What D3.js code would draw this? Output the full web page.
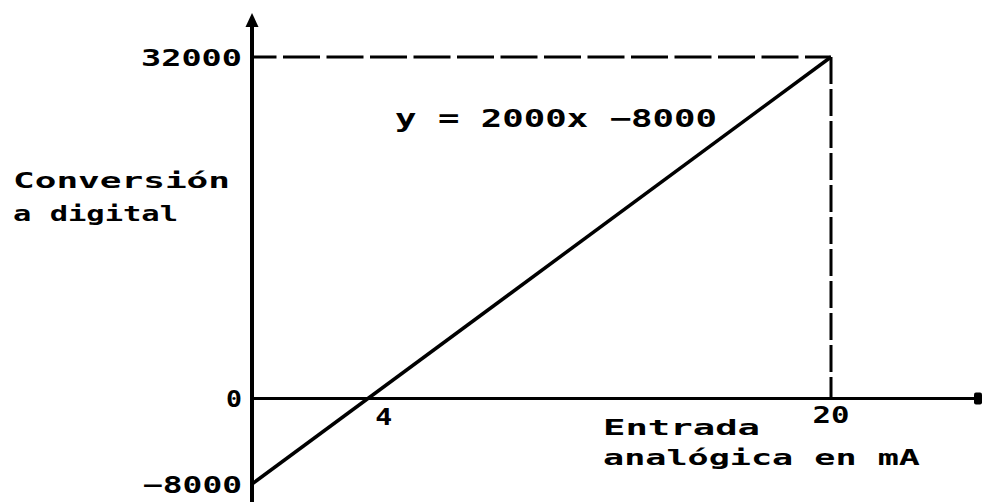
<!DOCTYPE html>
<html>
<head>
<meta charset="utf-8">
<script src="https://cdn.jsdelivr.net/npm/d3@7"></script>
<style>
  html, body { margin: 0; padding: 0; background: #fff; }
  svg { display: block; }
  text { font-family: "DejaVu Sans Mono", monospace; font-weight: bold; fill: #000; }
</style>
</head>
<body>
<svg id="chart" width="982" height="502"></svg>
<script>
// ---- data ----
const lineX = [0, 20];            // analog input (mA)
const lineY = [-8000, 32000];     // digital conversion
const xTicks = [4, 20];
const yTicks = [-8000, 0, 32000];
const yTickLabels = ["-8000", "0", "32000"];
const equation = "y = 2000x -8000";
const yTitle = ["Conversión", "a digital"];
const xTitle = ["Entrada", "analógica en mA"];

// ---- layout ----
const svg = d3.select("#chart");
const x = d3.scaleLinear().domain([0, 20]).range([252, 831]);
const y = d3.scaleLinear().domain([-8000, 32000]).range([484, 57]);

// dashed guide lines
svg.append("line")
  .attr("x1", x(0)).attr("x2", x(20))
  .attr("y1", y(32000)).attr("y2", y(32000))
  .attr("stroke", "#000").attr("stroke-width", 3)
  .attr("stroke-dasharray", "37,6.5").attr("stroke-dashoffset", 12.5);
svg.append("line")
  .attr("x1", x(20)).attr("x2", x(20))
  .attr("y1", y(32000)).attr("y2", y(0))
  .attr("stroke", "#000").attr("stroke-width", 3)
  .attr("stroke-dasharray", "27,5");

// x axis
svg.append("line")
  .attr("x1", x(0)).attr("x2", 978)
  .attr("y1", y(0)).attr("y2", y(0))
  .attr("stroke", "#000").attr("stroke-width", 3);
svg.append("rect")
  .attr("x", 974).attr("y", y(0) - 6).attr("width", 8).attr("height", 12)
  .attr("rx", 2).attr("fill", "#000");

// y axis
svg.append("line")
  .attr("x1", x(0)).attr("x2", x(0))
  .attr("y1", 502).attr("y2", 26)
  .attr("stroke", "#000").attr("stroke-width", 4);
svg.append("polygon")
  .attr("points", `${x(0)},13 ${x(0) - 6.5},27 ${x(0) + 6.5},27`)
  .attr("fill", "#000");

// data line
const line = d3.line().x(d => x(d[0])).y(d => y(d[1]));
svg.append("path")
  .datum(lineX.map((v, i) => [v, lineY[i]]))
  .attr("d", line)
  .attr("fill", "none").attr("stroke", "#000").attr("stroke-width", 3.5);

// y tick labels
const yLabelWidths = { "-8000": 99, "0": 16, "32000": 101 };
svg.selectAll(".ylab").data(yTicks).enter().append("text")
  .attr("class", "ylab")
  .attr("x", x(0) - 10)
  .attr("y", d => y(d) + 8.5)
  .attr("text-anchor", "end")
  .attr("font-size", 23)
  .attr("textLength", (d, i) => yLabelWidths[yTickLabels[i]])
  .attr("lengthAdjust", "spacingAndGlyphs")
  .text((d, i) => yTickLabels[i].replace("-", "\u2212"));

// x tick labels
const xLabelDx = { 4: 16, 20: 0 };
const xLabelWidths = { 4: 17, 20: 37 };
svg.selectAll(".xlab").data(xTicks).enter().append("text")
  .attr("class", "xlab")
  .attr("x", d => x(d) + xLabelDx[d])
  .attr("y", d => d === 4 ? 425 : 423)
  .attr("text-anchor", "middle")
  .attr("font-size", 23)
  .attr("textLength", d => xLabelWidths[d])
  .attr("lengthAdjust", "spacingAndGlyphs")
  .text(d => d);

// equation
svg.append("text")
  .attr("x", 395).attr("y", 127)
  .attr("font-size", 24)
  .attr("textLength", 322).attr("lengthAdjust", "spacingAndGlyphs")
  .text(equation.replace("-", "\u2212"));

// y title
const yTitleLen = [217, 165];
svg.selectAll(".ytitle").data(yTitle).enter().append("text")
  .attr("x", 13).attr("y", (d, i) => 188 + i * 33)
  .attr("font-size", 22)
  .attr("textLength", (d, i) => yTitleLen[i]).attr("lengthAdjust", "spacingAndGlyphs")
  .text(d => d);

// x title
const xTitleLen = [157, 317];
svg.selectAll(".xtitle").data(xTitle).enter().append("text")
  .attr("x", 603).attr("y", (d, i) => 435 + i * 30)
  .attr("font-size", 22)
  .attr("textLength", (d, i) => xTitleLen[i]).attr("lengthAdjust", "spacingAndGlyphs")
  .text(d => d);
</script>
</body>
</html>
